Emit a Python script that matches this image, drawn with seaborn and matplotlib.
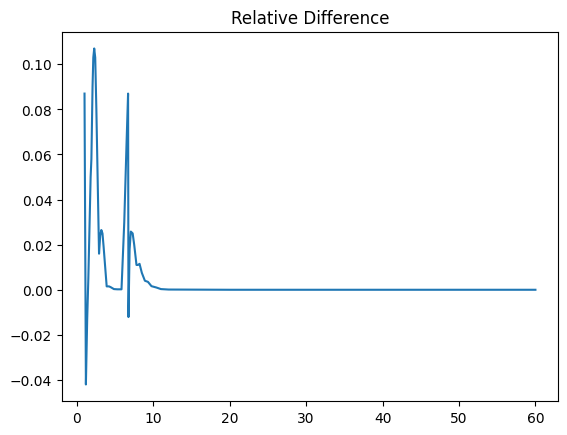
import matplotlib
matplotlib.use('Agg')
import matplotlib.pyplot as plt
import seaborn as sns

# points
x_vals = [1.0, 1.18, 1.35, 1.5, 1.8, 1.9, 2.05, 2.15, 2.27, 2.4, 2.55, 2.9,
          3.05, 3.2, 3.35, 3.5, 3.9, 4.2, 4.4, 4.85, 5.3, 5.84,
          6.2, 6.5, 6.7, 6.75, 6.9, 7.06, 7.3, 7.5, 7.8, 8.0, 8.2, 8.5, 8.9,
          9.3, 9.76, 10.4, 11.0, 12.0, 20.0, 30.0, 40.0, 50.0, 60.0]
rel_diff = [0.087, -0.042, -0.013, 0.005, 0.05, 0.058, 0.09, 0.103, 0.107, 0.103, 0.08, 0.016,
            0.024, 0.0265, 0.025, 0.019, 0.0015, 0.0015, 0.0012, 0.0003, 0.0002, 0.0002,
            0.03, 0.065, 0.087, -0.0121, 0.018, 0.0258, 0.025, 0.02, 0.011, 0.011, 0.0115, 0.0075, 0.004,
            0.0035, 0.0016, 0.001, 0.0003, 0.0001, 0.0, 0.0, 0.0, 0.0, 0.0]


def main():
    fig, ax = plt.subplots(figsize=(6.4, 4.8))
    sns.lineplot(x=x_vals, y=rel_diff, ax=ax, sort=False, estimator=None, color='C0', linewidth=1.5)
    ax.set_title('Relative Difference')
    fig.savefig('out.png', dpi=100, bbox_inches='tight')


if __name__ == '__main__':
    main()
